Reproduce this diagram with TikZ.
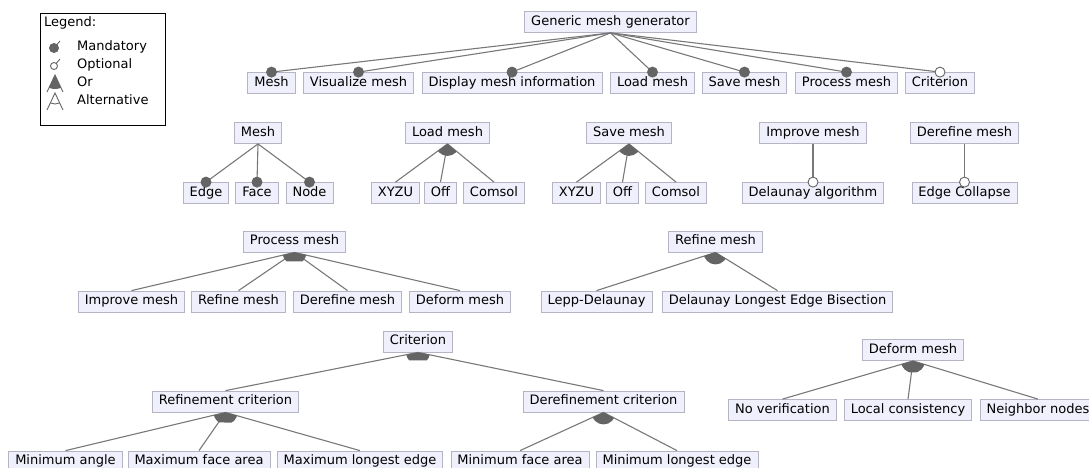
\documentclass[tikz,border=0pt]{standalone}
\usepackage{fontspec}
\setmainfont{DejaVu Sans}
\definecolor{boxfill}{RGB}{240,240,253}
\definecolor{boxline}{RGB}{180,180,196}
\definecolor{linegray}{RGB}{120,120,120}
\definecolor{dotgray}{RGB}{100,100,100}
\tikzset{
  feat/.style={draw=boxline, fill=boxfill, line width=0.8pt, font=\fontsize{13}{15}\selectfont,
    inner xsep=6.5pt, inner ysep=0pt, minimum height=21pt, text height=9.5pt, text depth=3.5pt},
  conn/.style={draw=linegray, line width=1.1pt},
  mand/.style={fill=dotgray},
  opt/.style={fill=white, draw=dotgray, line width=0.9pt},
  legtext/.style={font=\fontsize{13}{15}\selectfont, anchor=west, inner sep=0pt, text height=9.5pt, text depth=3.5pt}
}
\newcommand{\orarc}[3]{%
  \begin{scope}
    \clip (#1.south) -- ($(#1.south)!40pt!(#2.north)$) -- ($(#1.south)!40pt!(#3.north)$) -- cycle;
    \fill[dotgray] (#1.south) circle (12pt);
  \end{scope}}
\usetikzlibrary{calc}
\begin{document}
\begin{tikzpicture}[x=1pt,y=-1pt]
\useasboundingbox (0,0) rectangle (1089,467);

% Legend
\draw[black, line width=1pt] (40,13) rectangle (165,125);
\node[legtext] (lg) at (44,23) {Legend:};
\coordinate (lm) at (54,48);
\coordinate (lmt) at (60,41);
\draw[dotgray, line width=0.9pt] (lm) -- (lmt);
\fill[dotgray] (lm) circle (5pt);
\node[legtext] (lgm) at (77,47.5) {Mandatory};
\coordinate (lo) at (54,66);
\coordinate (lot) at (60,59);
\draw[dotgray, line width=0.9pt] ($(lo)!3.5pt!(lot)$) -- (lot);
\draw[dotgray, line width=0.9pt] (lo) circle (3.5pt);
\node[legtext] (lgo) at (77,65.5) {Optional};
\coordinate (lr) at (55,75);
\coordinate (lrl) at (47,92);
\coordinate (lrr) at (63,92);
\draw[dotgray, line width=0.9pt] (lrl) -- (lr) -- (lrr);
\begin{scope}
  \clip (lr) -- (lrl) -- (lrr) -- cycle;
  \fill[dotgray] (lr) circle (14pt);
\end{scope}
\node[legtext] (lgr) at (77,83.5) {Or};
\coordinate (la) at (55,93);
\coordinate (lal) at (47,110);
\coordinate (lar) at (63,110);
\draw[dotgray, line width=0.9pt] (lal) -- (la) -- (lar);
\draw[dotgray, line width=0.9pt] ($(la)!11pt!(lal)$) arc[start angle=244.8, end angle=295.2, radius=11pt];
\node[legtext] (lga) at (77,101.5) {Alternative};

% Top tree
\node[feat] (root) at (610.5,22) {Generic mesh generator};
\node[feat] (mesh) at (271.5,83) {Mesh};
\node[feat] (vis) at (358.5,83) {Visualize mesh};
\node[feat] (disp) at (512,83) {Display mesh information};
\node[feat] (load) at (652.5,83) {Load mesh};
\node[feat] (save) at (744.5,83) {Save mesh};
\node[feat] (proc) at (846.5,83) {Process mesh};
\node[feat] (crit) at (940,83) {Criterion};
\foreach \c in {mesh,vis,disp,load,save,proc,crit}
  \draw[conn] (root.south) -- (\c.north);
\foreach \c in {mesh,vis,disp,load,save,proc}
  \fill[mand] (\c.north) circle (5.5pt);
\draw[opt] (crit.north) circle (5pt);

% Mesh
\node[feat] (m2) at (258,133) {Mesh};
\node[feat] (edge) at (206,193) {Edge};
\node[feat] (face) at (257,193) {Face};
\node[feat] (node) at (309.5,193) {Node};
\foreach \c in {edge,face,node} {
  \draw[conn] (m2.south) -- (\c.north);
  \fill[mand] (\c.north) circle (5.5pt);
}

% Load mesh
\node[feat] (l2) at (447.5,133) {Load mesh};
\node[feat] (lx) at (395.5,193) {XYZU};
\node[feat] (lo2) at (440.5,193) {Off};
\node[feat] (lc) at (494,193) {Comsol};
\foreach \c in {lx,lo2,lc} \draw[conn] (l2.south) -- (\c.north);
\orarc{l2}{lx}{lc}

% Save mesh
\node[feat] (s2) at (629,133) {Save mesh};
\node[feat] (sx) at (576.5,193) {XYZU};
\node[feat] (so) at (622.5,193) {Off};
\node[feat] (sc) at (676,193) {Comsol};
\foreach \c in {sx,so,sc} \draw[conn] (s2.south) -- (\c.north);
\orarc{s2}{sx}{sc}

% Improve mesh
\node[feat] (i2) at (813,133) {Improve mesh};
\node[feat] (del) at (813,193) {Delaunay algorithm};
\draw[conn] (i2.south) -- (del.north);
\draw[opt] (del.north) circle (5pt);

% Derefine mesh
\node[feat] (d2) at (964.5,133) {Derefine mesh};
\node[feat] (ec) at (964.5,193) {Edge Collapse};
\draw[conn] (d2.south) -- (ec.north);
\draw[opt] (ec.north) circle (5pt);

% Process mesh
\node[feat] (p2) at (294.5,241.5) {Process mesh};
\node[feat] (pim) at (131.5,301.5) {Improve mesh};
\node[feat] (prm) at (238.5,301.5) {Refine mesh};
\node[feat] (pdm) at (347.5,301.5) {Derefine mesh};
\node[feat] (pfm) at (460,301.5) {Deform mesh};
\foreach \c in {pim,prm,pdm,pfm} \draw[conn] (p2.south) -- (\c.north);
\orarc{p2}{pim}{pfm}

% Refine mesh
\node[feat] (r2) at (715.5,241.5) {Refine mesh};
\node[feat] (lepp) at (596.5,301.5) {Lepp-Delaunay};
\node[feat] (dleb) at (777.5,301.5) {Delaunay Longest Edge Bisection};
\foreach \c in {lepp,dleb} \draw[conn] (r2.south) -- (\c.north);
\orarc{r2}{lepp}{dleb}

% Criterion
\node[feat] (c2) at (418,341.5) {Criterion};
\node[feat] (rc) at (225.5,401.5) {Refinement criterion};
\node[feat] (dc) at (603.5,401.5) {Derefinement criterion};
\foreach \c in {rc,dc} \draw[conn] (c2.south) -- (\c.north);
\orarc{c2}{rc}{dc}

\node[feat] (mina) at (65.5,461.5) {Minimum angle};
\node[feat] (maxfa) at (199,461.5) {Maximum face area};
\node[feat] (maxle) at (360,461.5) {Maximum longest edge};
\foreach \c in {mina,maxfa,maxle} \draw[conn] (rc.south) -- (\c.north);
\orarc{rc}{mina}{maxle}

\node[feat] (minfa) at (520,461.5) {Minimum face area};
\node[feat] (minle) at (677,461.5) {Minimum longest edge};
\foreach \c in {minfa,minle} \draw[conn] (dc.south) -- (\c.north);
\orarc{dc}{minfa}{minle}

% Deform mesh
\node[feat] (f2) at (913,350) {Deform mesh};
\node[feat] (nv) at (782.5,410) {No verification};
\node[feat] (lcn) at (908,410) {Local consistency};
\node[feat] (nn) at (1038,410) {Neighbor nodes};
\foreach \c in {nv,lcn,nn} \draw[conn] (f2.south) -- (\c.north);
\orarc{f2}{nv}{nn}
\end{tikzpicture}
\end{document}
